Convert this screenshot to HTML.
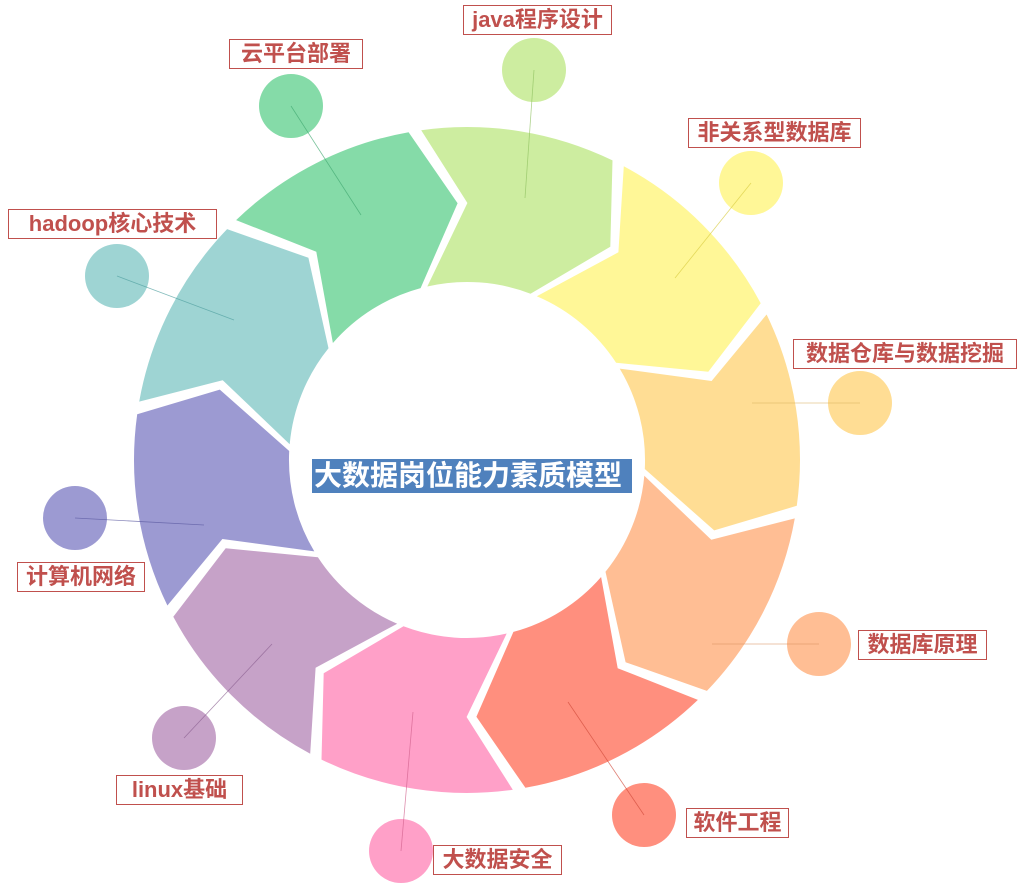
<!DOCTYPE html>
<html><head><meta charset="utf-8">
<style>
body{margin:0;background:#fff;width:1024px;height:895px;overflow:hidden;position:relative;font-family:"Liberation Sans","Noto Sans CJK SC",sans-serif;}
.lb{position:absolute;border:1.5px solid #c0504d;background:#fff;color:#c0504d;font-weight:bold;font-size:22px;line-height:27px;padding:0 5px;box-sizing:border-box;white-space:nowrap;text-align:center;}
#t{position:absolute;left:312px;top:459px;width:320px;height:34px;background:#4f81bd;color:#fff;font-weight:bold;font-size:28px;line-height:34px;text-align:left;padding-left:2px;box-sizing:border-box;white-space:nowrap;}
</style></head><body>
<svg id="s" width="1024" height="895" style="position:absolute;left:0;top:0"></svg>
<div class="lb" style="left:463px;top:5px;width:149px;height:30px">java程序设计</div>
<div class="lb" style="left:688px;top:118px;width:173px;height:30px">非关系型数据库</div>
<div class="lb" style="left:793px;top:339px;width:224px;height:30px">数据仓库与数据挖掘</div>
<div class="lb" style="left:858px;top:630px;width:129px;height:30px">数据库原理</div>
<div class="lb" style="left:686px;top:808px;width:103px;height:30px">软件工程</div>
<div class="lb" style="left:433px;top:845px;width:129px;height:30px">大数据安全</div>
<div class="lb" style="left:116px;top:775px;width:127px;height:30px">linux基础</div>
<div class="lb" style="left:17px;top:562px;width:128px;height:30px">计算机网络</div>
<div class="lb" style="left:8px;top:209px;width:209px;height:30px">hadoop核心技术</div>
<div class="lb" style="left:229px;top:39px;width:134px;height:30px">云平台部署</div>
<div id="t">大数据岗位能力素质模型</div>
<script>
var cx=467,cy=460,R=333,r=178,m=257,d=8,sk=5;
var segs=[
["#cdeda0",-9,"#8fc060",[534,70],[525,198]],
["#fff797",27,"#d8cc40",[751,183],[675,278]],
["#ffdd94",63,"#d8b060",[860,403],[752,403]],
["#ffbe94",99,"#d89060",[819,644],[712,644]],
["#ff8f7e",135,"#d04a3a",[644,815],[568,702]],
["#ffa0c8",171,"#d0608c",[401,851],[413,712]],
["#c6a2c8",207,"#8a6090",[184,738],[272,644]],
["#9c9ad2",243,"#5a58a0",[75,518],[204,525]],
["#9ed4d3",279,"#50a0a0",[117,276],[234,320]],
["#85dba8",315,"#40a870",[291,106],[361,215]]];
function P(a,rr){var t=(a-90)*Math.PI/180;return (cx+rr*Math.cos(t)).toFixed(1)+","+(cy+rr*Math.sin(t)).toFixed(1);}
var h="";
segs.forEach(function(s){
 var a0=s[1]+1.1,a1=s[1]+36-1.1;
 var p="M"+P(a0,R)+" A"+R+","+R+" 0 0 1 "+P(a1,R)+" L"+P(a1+d,m)+" L"+P(a1-sk,r)+" A"+r+","+r+" 0 0 0 "+P(a0-sk,r)+" L"+P(a0+d,m)+" Z";
 h+='<path d="'+p+'" fill="'+s[0]+'"/>';
});
h+='<circle cx="'+cx+'" cy="'+cy+'" r="'+(r-1)+'" fill="#fff"/>';
segs.forEach(function(s){
 h+='<circle cx="'+s[3][0]+'" cy="'+s[3][1]+'" r="32" fill="'+s[0]+'"/>';
 h+='<line x1="'+s[3][0]+'" y1="'+s[3][1]+'" x2="'+s[4][0]+'" y2="'+s[4][1]+'" stroke="'+s[2]+'" stroke-width="0.8" stroke-opacity="0.7"/>';
});
document.getElementById("s").innerHTML=h;
</script>
</body></html>
